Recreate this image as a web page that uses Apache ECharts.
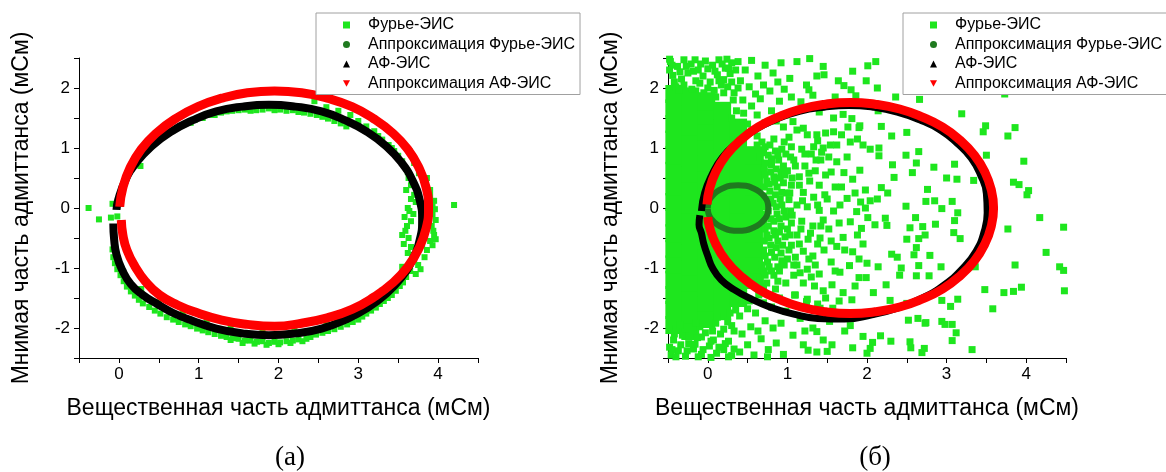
<!DOCTYPE html>
<html><head><meta charset="utf-8">
<script src="https://cdn.jsdelivr.net/npm/echarts@6/dist/echarts.min.js"></script>
<style>html,body{margin:0;padding:0;background:#fff}#c{width:1166px;height:472px}</style>
</head><body><div id="c"></div>
<script>
// ---- tick labels & names ----
const xTickLabels = ['0', '1', '2', '3', '4'];
const yTickLabels = ['-2', '-1', '0', '1', '2'];
const seriesNames = ['Фурье-ЭИС', 'Аппроксимация Фурье-ЭИС', 'АФ-ЭИС', 'Аппроксимация АФ-ЭИС'];
const xTitle = 'Вещественная часть адмиттанса (мСм)';
const yTitle = 'Мнимая часть адмиттанса (мСм)';
const panelLabels = ['(а)', '(б)'];

// ---- panel (а) data ----
const fourierA = [
[1.2,1.55],[1.35,1.61],[1.5,1.63],[1.65,1.62],[1.8,1.64],[1.95,1.63],[2.1,1.62],[2.25,1.60],[2.4,1.57],[2.55,1.52],[1.05,1.50],[0.9,1.42],[2.7,1.45],[2.85,1.36],
[0.75,1.35],[0.95,1.47],[1.15,1.55],[1.28,1.59],[1.42,1.62],[1.58,1.64],[1.72,1.63],[1.88,1.66],[2.02,1.64],[2.18,1.63],[2.32,1.59],[2.48,1.55],[2.62,1.49],[2.78,1.41],
[2.6,1.68],[2.9,1.55],[3.1,1.36],[3.3,1.14],[3.45,0.95],[3.55,0.78],[3.62,0.60],[3.2,1.28],[3.38,1.05],[2.45,1.78],[2.75,1.62],[3.0,1.45],[3.25,1.2],[3.5,0.87],[3.42,1.0],
[3.7,0.75],[3.76,0.58],[3.85,0.35],[3.64,0.95],[3.86,0.5],[3.9,0.3],
[3.60,0.30],[3.66,0.15],[3.62,0.0],[3.58,-0.15],[3.61,-0.30],[3.55,-0.45],[3.57,-0.60],[3.62,-0.75],[3.90,0.20],[3.93,0.06],[3.93,-0.10],[3.92,-0.30],[3.95,-0.45],[3.90,-0.55],[3.86,-0.70],[3.88,-0.20],[4.20,0.05],[3.68,0.45],[3.70,-0.85],[3.64,-0.05],[3.59,-0.38],
[3.63,0.5],[3.66,0.38],[3.70,0.22],[3.72,0.10],[3.69,-0.10],[3.66,-0.22],[3.63,-0.5],[3.66,-0.65],[3.68,-0.78],[3.95,0.12],[3.96,-0.02],[3.97,-0.20],[3.94,-0.38],[3.97,-0.52],[3.93,-0.62],[3.83,-0.82],[3.80,-0.62],
[3.75,-0.95],[3.60,-1.15],[3.52,-1.30],[3.42,-1.45],[3.32,-1.55],[3.22,-1.66],[3.10,-1.76],[3.00,-1.86],[2.86,-1.94],[2.70,-2.02],[2.55,-2.08],[3.65,-1.05],[3.38,-1.35],
[3.78,-1.02],[3.72,-1.1],[3.56,-1.24],[3.47,-1.38],[3.37,-1.5],[3.27,-1.6],[3.16,-1.71],[3.05,-1.81],[2.93,-1.9],[2.78,-1.98],[2.62,-2.05],[2.47,-2.11],
[2.40,-2.15],[2.25,-2.19],[2.10,-2.22],[1.95,-2.23],[1.80,-2.22],[1.65,-2.21],[1.50,-2.18],[1.35,-2.15],[1.20,-2.10],[1.05,-2.04],[2.00,-2.27],[1.70,-2.26],[1.40,-2.20],[2.30,-2.22],
[2.35,-2.18],[2.18,-2.21],[2.02,-2.24],[1.88,-2.25],[1.73,-2.23],[1.58,-2.21],[1.43,-2.17],[1.28,-2.13],[1.12,-2.07],[0.98,-2.01],[1.85,-2.28],[1.55,-2.25],[2.15,-2.25],
[0.90,-1.97],[0.75,-1.90],[0.60,-1.82],[0.45,-1.71],[0.30,-1.59],[0.20,-1.46],[0.10,-1.31],[0.02,-1.12],[-0.05,-0.92],
[0.83,-1.94],[0.68,-1.86],[0.52,-1.76],[0.38,-1.65],[0.25,-1.53],[0.15,-1.39],[0.06,-1.22],[-0.02,-1.02],[-0.07,-0.82],
[0.28,-1.35],[0.50,-1.57],[0.80,-1.76],[1.10,-1.90],[1.40,-1.99],[1.80,-2.03],[2.20,-2.01],[2.60,-1.89],[3.00,-1.67],[3.30,-1.38],[3.55,-0.98],
[-0.38,0.00],[-0.25,-0.19],[-0.08,0.07],[-0.10,-0.16],[-0.08,-0.69],[0.27,0.70],[-0.02,-0.14]
];
const approxFourierA = [
[0.01,0.02],[0.05,0.34],[0.14,0.67],[0.28,0.98],[0.47,1.25],[0.71,1.49],[0.99,1.69],[1.29,1.83],[1.61,1.92],[1.95,1.95],
[2.29,1.92],[2.61,1.83],[2.92,1.69],[3.19,1.49],[3.43,1.25],[3.62,0.98],[3.76,0.67],[3.85,0.34],[3.88,0.0],
[3.85,-0.34],[3.76,-0.67],[3.62,-0.98],[3.43,-1.25],[3.19,-1.49],[2.92,-1.69],[2.61,-1.83],[2.29,-1.92],[1.95,-1.97],
[1.61,-1.94],[1.29,-1.87],[0.99,-1.75],[0.74,-1.62],[0.51,-1.45],[0.33,-1.22],[0.2,-0.97],[0.1,-0.7],[0.05,-0.45],[0.03,-0.2]
];
const afA = [
[-0.03,-0.03],[-0.01,0.13],[0.08,0.46],[0.22,0.76],[0.41,1.03],[0.65,1.27],[0.92,1.46],[1.22,1.61],[1.55,1.69],[1.88,1.72],
[2.21,1.69],[2.54,1.61],[2.84,1.46],[3.11,1.27],[3.35,1.03],[3.54,0.76],[3.68,0.46],[3.77,0.13],[3.80,-0.2],
[3.77,-0.53],[3.68,-0.86],[3.54,-1.16],[3.35,-1.43],[3.11,-1.67],[2.84,-1.86],[2.54,-2.01],[2.21,-2.09],[1.88,-2.12],
[1.55,-2.09],[1.22,-2.01],[0.92,-1.88],[0.68,-1.75],[0.48,-1.6],[0.3,-1.45],[0.15,-1.27],[0.04,-1.03],[-0.03,-0.78],[-0.06,-0.52],[-0.07,-0.26]
];
const approxAfA = [
[0.01,0.02],[0.05,0.34],[0.14,0.67],[0.28,0.98],[0.47,1.25],[0.71,1.49],[0.99,1.69],[1.29,1.83],[1.61,1.92],[1.95,1.95],
[2.29,1.92],[2.61,1.83],[2.92,1.69],[3.19,1.49],[3.43,1.25],[3.62,0.98],[3.76,0.67],[3.85,0.34],[3.88,0.0],
[3.85,-0.34],[3.76,-0.67],[3.62,-0.98],[3.43,-1.25],[3.19,-1.49],[2.92,-1.69],[2.61,-1.83],[2.29,-1.92],[1.95,-1.97],
[1.61,-1.94],[1.29,-1.87],[0.99,-1.75],[0.74,-1.62],[0.51,-1.45],[0.33,-1.22],[0.2,-0.97],[0.1,-0.7],[0.05,-0.45],[0.03,-0.2]
];

// ---- panel (б) data ----
// dense, fully covered part of the cloud
const fourierBCore = [
[-0.42,-1.95],[-0.42,-1.70],[-0.42,-1.45],[-0.42,-1.20],[-0.42,-0.94],[-0.42,-0.68],[-0.42,-0.42],[-0.42,-0.16],[-0.42,0.10],[-0.42,0.36],[-0.42,0.62],[-0.42,0.88],[-0.42,1.14],[-0.42,1.40],[-0.42,1.66],[-0.42,1.90],
[-0.22,-2.05],[-0.22,-1.78],[-0.22,-1.50],[-0.22,-1.24],[-0.22,-0.98],[-0.22,-0.72],[-0.22,-0.46],[-0.22,-0.20],[-0.22,0.06],[-0.22,0.32],[-0.22,0.58],[-0.22,0.84],[-0.22,1.10],[-0.22,1.36],[-0.22,1.62],[-0.22,1.86],
[-0.02,-1.85],[-0.02,-1.58],[-0.02,-1.32],[-0.02,-1.06],[-0.02,-0.80],[-0.02,-0.54],[-0.02,-0.28],[-0.02,-0.02],[-0.02,0.24],[-0.02,0.50],[-0.02,0.76],[-0.02,1.02],[-0.02,1.28],[-0.02,1.54],[-0.02,1.78],
[0.18,-1.72],[0.18,-1.46],[0.18,-1.20],[0.18,-0.94],[0.18,-0.68],[0.18,-0.42],[0.18,-0.16],[0.18,0.10],[0.18,0.36],[0.18,0.62],[0.18,0.88],[0.18,1.14],[0.18,1.40],[0.18,1.62],
[0.38,-1.50],[0.38,-1.24],[0.38,-0.98],[0.38,-0.72],[0.38,-0.46],[0.38,-0.20],[0.38,0.06],[0.38,0.32],[0.38,0.58],[0.38,0.84],[0.38,1.10],[0.38,1.34],
[0.58,-1.20],[0.58,-0.94],[0.58,-0.68],[0.58,-0.42],[0.58,-0.16],[0.58,0.10],[0.58,0.36],[0.58,0.62],[0.58,0.88]
];
const fourierB = [
[-0.47,2.44],[-0.38,2.36],[-0.30,2.47],[-0.21,2.40],[-0.12,2.30],[-0.03,2.45],[0.06,2.38],[0.14,2.47],[0.22,2.33],[0.30,2.42],[-0.44,2.21],[-0.33,2.15],[-0.25,2.25],[-0.15,2.12],[-0.06,2.20],[0.03,2.10],[0.12,2.22],[0.20,2.14],[0.28,2.24],[-0.40,2.02],[-0.20,1.98],[0.08,1.96],[0.25,2.02],[0.33,1.92],[-0.48,2.30],[0.17,2.05],
[-0.45,2.38],[-0.35,2.27],[-0.27,2.36],[-0.18,2.28],[-0.09,2.40],[0.00,2.32],[0.09,2.28],[0.18,2.40],[0.26,2.33],[0.35,2.30],[-0.42,2.10],[-0.30,2.05],[-0.10,2.08],[0.00,2.00],[0.14,2.12],[0.30,2.10],[-0.36,1.96],[-0.05,1.92],[0.20,1.92],[0.38,2.00],[-0.48,2.48],[-0.16,2.47],[0.24,2.48],[0.10,1.85],[0.32,1.80],[0.36,1.62],[0.30,1.50],
[0.38,2.44],[0.47,2.30],[0.55,2.46],[0.63,2.20],[0.72,2.38],[0.82,2.25],[0.92,2.42],[0.41,2.12],[0.52,2.02],[0.60,1.90],[0.70,2.05],[0.78,1.95],[0.88,2.10],[0.96,1.98],[0.44,1.80],[0.55,1.70],[0.66,1.82],[0.80,1.62],[0.90,1.78],[0.98,1.55],[0.62,1.55],[0.45,1.58],[0.86,1.45],[0.72,1.42],[0.95,1.35],[0.50,1.40],
[-0.46,-2.45],[-0.37,-2.38],[-0.28,-2.47],[-0.18,-2.35],[-0.08,-2.44],[0.02,-2.30],[0.11,-2.42],[0.20,-2.36],[0.30,-2.46],[-0.43,-2.20],[-0.32,-2.12],[-0.24,-2.26],[-0.13,-2.16],[-0.03,-2.08],[0.07,-2.20],[0.16,-2.10],[0.26,-2.22],[0.33,-2.05],[-0.40,-2.02],[-0.10,-1.98],[0.10,-1.92],[0.25,-1.90],[-0.48,-2.32],[0.04,-2.49],
[-0.45,-2.36],[-0.34,-2.28],[-0.26,-2.38],[-0.16,-2.27],[-0.06,-2.36],[0.04,-2.22],[0.14,-2.32],[0.22,-2.26],[0.33,-2.35],[-0.42,-2.10],[-0.28,-2.02],[-0.08,-2.15],[0.06,-2.05],[0.20,-2.02],[0.30,-1.96],[-0.35,-1.95],[-0.15,-1.92],[0.12,-1.82],[0.28,-1.75],[0.34,-1.58],[-0.40,-2.48],[-0.12,-2.48],[0.26,-2.48],[0.45,-1.42],
[0.40,-2.40],[0.50,-2.28],[0.58,-2.45],[0.67,-2.18],[0.76,-2.36],[0.86,-2.25],[0.95,-2.44],[0.43,-2.10],[0.54,-1.98],[0.63,-2.05],[0.72,-1.88],[0.82,-2.00],[0.92,-1.92],[0.40,-1.80],[0.50,-1.68],[0.60,-1.75],[0.70,-1.58],[0.80,-1.65],[0.90,-1.50],[0.98,-1.72],[0.45,-1.55],[0.65,-1.42],[0.85,-1.35],[0.35,-1.70],[0.75,-2.48],
[0.72,-1.12],[0.80,-1.05],[0.88,-0.98],[0.75,-0.90],[0.84,-0.82],[0.92,-0.75],[0.70,-0.70],[0.79,-0.62],[0.88,-0.55],[0.97,-0.48],[0.74,-0.45],[0.83,-0.38],[0.92,-0.30],[0.70,-0.25],[0.79,-0.18],[0.87,-0.10],[0.96,-0.05],[0.73,0.02],[0.82,0.08],[0.91,0.15],[0.70,0.20],[0.78,0.28],[0.87,0.35],[0.95,0.42],[0.74,0.45],[0.83,0.52],[0.92,0.60],[0.71,0.65],[0.80,0.72],[0.89,0.80],[0.76,0.88],[0.85,0.95],[0.72,1.02],[0.93,-0.88],[0.98,-0.15],[0.99,0.25],[0.68,-0.95],[0.66,0.85],
[0.71,-1.05],[0.77,-0.98],[0.83,-1.12],[0.90,-1.05],[0.96,-0.95],[0.72,-0.80],[0.80,-0.74],[0.86,-0.66],[0.94,-0.62],[1.02,-0.70],[0.71,-0.55],[0.77,-0.50],[0.85,-0.45],[0.90,-0.40],[1.03,-0.45],[0.72,-0.35],[0.76,-0.30],[0.83,-0.22],[0.90,-0.18],[1.04,-0.05],[0.71,-0.10],[0.76,-0.05],[0.86,0.02],[0.93,0.05],[0.72,0.12],[0.79,0.15],[0.85,0.22],[0.93,0.26],[1.06,0.50],[0.71,0.35],[0.77,0.40],[0.84,0.43],[0.91,0.50],[0.97,0.55],[0.72,0.55],[0.79,0.60],[0.86,0.65],[0.95,0.70],[0.72,0.75],[0.80,0.82],[0.88,0.88],[0.93,0.98],[0.70,0.92],[0.78,1.05],[0.83,1.15],[1.04,0.85],[1.08,-0.95],[0.74,-1.25],[0.88,-1.22],
[0.62,1.2],[0.55,1.28],[0.68,1.1],[0.64,-1.45],[0.52,-1.55],[0.7,-1.3],[0.62,1.05],[0.66,-1.2],
[1.12,1.30],[1.02,1.18],[1.25,1.22],[1.38,1.12],[1.05,1.02],[1.18,0.98],[1.30,0.90],[1.42,0.80],[1.08,0.80],[1.22,0.70],[1.35,0.62],[1.00,0.62],[1.15,0.52],[1.28,0.45],[1.40,0.38],[1.05,0.38],[1.20,0.26],[1.33,0.18],[1.47,0.22],[1.02,0.14],[1.12,0.05],[1.25,0.02],[1.40,-0.04],[1.06,-0.12],[1.18,-0.22],[1.32,-0.30],[1.45,-0.20],[1.00,-0.35],[1.12,-0.45],[1.26,-0.52],[1.38,-0.60],[1.05,-0.62],[1.20,-0.72],[1.32,-0.80],[1.46,-0.70],[1.00,-0.85],[1.12,-0.95],[1.25,-1.02],[1.40,-1.10],[1.08,-1.12],[1.20,-1.25],[1.34,-1.30],[1.45,-1.38],[0.98,-1.25],[1.10,-1.45],[1.25,-1.52],[1.38,-1.60],[1.48,-1.50],[0.96,1.10],[1.45,1.00],[1.48,0.55],[0.98,0.90],
[1.03,0.25],[1.15,0.38],[1.27,0.58],[1.36,0.80],[1.10,0.70],[1.22,0.90],[1.33,1.02],[1.05,-0.25],[1.17,-0.35],[1.29,-0.42],[1.41,-0.50],[1.15,-0.60],[1.27,-0.85],[1.35,-0.95],[1.10,-0.82],[1.42,-0.30],[1.38,0.05],[1.19,0.12],[1.30,-1.15],[1.16,-1.08],
[1.03,2.16],[1.12,2.44],[1.24,2.05],[1.28,2.49],[1.32,1.88],[1.17,1.77],[1.37,2.20],[1.45,2.36],[1.46,2.22],[1.27,1.97],[1.07,1.44],[1.20,1.33],[1.37,1.22],[1.05,1.85],[1.40,1.60],[1.16,-1.84],[1.07,-2.12],[1.20,-2.28],[1.32,-2.00],[1.37,-2.40],[1.24,-1.56],[1.41,-1.67],[1.09,-1.45],[1.22,-2.05],[1.26,-2.37],[1.50,-2.39],[1.37,-2.06],[1.53,-1.89],[1.45,-2.20],
[1.64,2.12],[1.71,2.04],[1.80,1.97],[1.86,1.87],[1.82,2.28],[1.70,1.56],[1.81,1.49],[1.91,1.37],[1.58,1.27],[1.68,1.22],[1.79,1.10],[1.54,1.05],[1.43,0.93],[1.62,0.77],[1.71,0.59],[1.82,0.48],[1.91,0.63],[1.75,0.16],[1.66,0.05],[1.87,-0.06],[1.79,-0.23],[1.93,-0.34],[1.70,-0.49],[1.62,-0.64],[1.82,-0.73],[1.90,-0.85],[2.00,-0.92],[1.78,-0.96],[1.66,-1.07],[1.90,-1.16],[1.56,-1.28],[1.70,-1.41],[1.81,-1.53],[1.57,-1.67],[1.56,-2.28],[1.82,-2.33],[1.79,-1.96],[1.60,0.35],[1.52,-0.35],[1.55,0.60],[1.98,0.30],[1.65,-0.25],[1.58,1.50],[1.95,1.05],[1.88,-0.45],[1.55,-0.90],
[1.52,0.85],[1.62,1.05],[1.75,0.85],[1.85,0.25],[1.58,-0.05],[1.72,-0.7],[1.6,-1.05],[1.85,-1.3],[1.95,-0.6],[1.5,0.15],[1.68,0.35],[1.76,1.35],[1.92,0.1],[1.55,-0.55],[1.65,-1.55],[1.88,1.15],[1.48,1.25],[1.6,1.85],[1.72,-2.05],[1.95,-1.75],
[2.11,2.44],[2.01,2.37],[1.99,2.12],[2.13,2.00],[2.36,1.85],[2.66,1.81],[2.14,1.62],[1.90,1.34],[2.18,1.36],[2.31,1.20],[2.50,1.26],[2.49,0.88],[2.65,0.94],[2.62,0.75],[2.32,0.72],[2.15,0.87],[2.04,0.98],[2.15,1.00],[2.57,0.59],[2.34,0.51],[2.18,0.34],[2.26,0.25],[2.04,0.12],[2.13,0.15],[1.98,0.00],[2.49,0.03],[2.01,-0.16],[2.23,-0.17],[2.25,-0.29],[2.10,-0.28],[2.61,-0.16],[2.54,-0.33],[2.65,-0.51],[2.50,-0.52],[2.62,-0.66],[2.59,-0.78],[2.31,-0.77],[2.38,-0.82],[2.43,-1.00],[2.41,-1.12],[2.65,-0.96],[2.62,-1.13],[2.14,-0.98],[2.24,-1.28],[1.99,-1.16],[2.08,-1.41],[2.29,-1.54],[2.50,-1.59],[2.64,-1.84],[2.52,-1.87],[2.73,-1.92],[2.17,-2.13],[1.95,-2.14],[2.07,-2.24],[2.04,-2.34],[2.00,-2.42],[2.30,-2.22],[2.54,-2.23],[2.55,-2.33],[2.72,-2.34],
[3.19,1.57],[3.49,1.37],[3.46,1.27],[3.86,1.34],[3.77,1.20],[3.50,0.88],[3.97,0.78],[3.10,0.73],[2.84,0.68],[3.00,0.50],[3.13,0.48],[3.34,0.46],[3.84,0.43],[3.91,0.39],[4.03,0.29],[4.01,0.22],[2.76,0.31],[2.74,0.11],[2.85,0.12],[3.07,0.11],[2.94,-0.01],[3.14,-0.08],[3.10,-0.21],[2.86,-0.27],[2.70,-0.31],[3.09,-0.41],[3.17,-0.51],[2.73,-0.45],[4.17,-0.16],[3.77,-0.35],[4.47,-0.32],[4.25,-0.74],[2.79,-0.79],[2.93,-0.98],[3.36,-0.98],[3.86,-0.95],[4.42,-0.98],[4.47,-1.04],[2.78,-1.13],[3.48,-1.36],[3.72,-1.41],[3.84,-1.39],[3.94,-1.32],[4.48,-1.38],[3.14,-1.52],[2.94,-1.54],[3.05,-1.64],[3.58,-1.68],[2.74,-1.91],[2.94,-1.89],[2.98,-1.94],[3.07,-1.94],[3.12,-2.08],[3.07,-2.21],[3.32,-2.36],[2.69,-2.41],[3.73,1.90],[2.95,2.40],[2.60,2.30]
];
const approxFourierB = [
[0.0,0.0],[0.01,0.10],[0.05,0.19],[0.11,0.27],[0.19,0.33],[0.28,0.37],[0.38,0.38],[0.48,0.37],[0.57,0.33],[0.65,0.27],[0.71,0.19],[0.75,0.10],[0.76,0.0],
[0.75,-0.10],[0.71,-0.19],[0.65,-0.27],[0.57,-0.33],[0.48,-0.37],[0.38,-0.38],[0.28,-0.37],[0.19,-0.33],[0.11,-0.27],[0.05,-0.19],[0.01,-0.10],[0.0,-0.01]
];
const afB = [
[-0.08,-0.05],[-0.04,0.25],[0.05,0.55],[0.18,0.84],[0.37,1.09],[0.6,1.31],[0.86,1.48],[1.15,1.61],[1.46,1.68],[1.77,1.71],[2.08,1.68],[2.38,1.6],[2.66,1.47],[2.92,1.3],[3.13,1.08],[3.31,0.83],[3.43,0.54],[3.5,0.24],[3.51,-0.08],
[3.47,-0.4],[3.37,-0.72],[3.2,-1.01],[2.98,-1.27],[2.71,-1.49],[2.4,-1.66],[2.06,-1.78],[1.72,-1.85],[1.38,-1.84],[1.08,-1.77],[0.8,-1.66],[0.55,-1.52],[0.33,-1.36],[0.17,-1.2],[0.06,-1.0],[0.0,-0.8],[-0.05,-0.6],[-0.08,-0.42],[-0.11,-0.28],[-0.1,-0.12]
];
const approxAfB = [
[-0.01,0.06],[0.02,0.31],[0.10,0.60],[0.23,0.88],[0.41,1.13],[0.63,1.35],[0.89,1.52],[1.17,1.65],[1.48,1.73],[1.79,1.76],[2.10,1.73],[2.41,1.65],[2.69,1.52],[2.95,1.35],[3.17,1.13],[3.35,0.88],[3.48,0.60],[3.56,0.31],[3.59,0.0],
[3.56,-0.31],[3.48,-0.60],[3.35,-0.88],[3.17,-1.13],[2.95,-1.35],[2.69,-1.52],[2.41,-1.65],[2.10,-1.73],[1.79,-1.76],[1.48,-1.73],[1.17,-1.65],[0.89,-1.52],[0.63,-1.35],[0.41,-1.13],[0.23,-0.88],[0.10,-0.60],[0.02,-0.31],[0.0,-0.15]
];

// ---- styling ----
const GREEN = '#1ee61e', DKGREEN = '#1f7a1f', BLACK = '#000000', RED = '#ff0000';
const FONT = 'Liberation Sans';
const grids = [
  {left: 79, top: 58, width: 399, height: 300},
  {left: 668, top: 58, width: 398, height: 300}
];
function xLab(v) { const s = String(Math.round(v * 100) / 100); return xTickLabels.includes(s) ? s : ''; }
function yLab(v) { const s = String(Math.round(v * 100) / 100); return yTickLabels.includes(s) ? s : ''; }
function xAxis(i) {
  return {gridIndex: i, type: 'value', min: -0.5, max: 4.5, interval: 0.5,
    axisLine: {show: true, onZero: false, lineStyle: {color: '#000', width: 1}},
    axisTick: {show: true, inside: false, length: 5, lineStyle: {color: '#000'}},
    axisLabel: {formatter: xLab, margin: 8, fontSize: 17, fontFamily: FONT, color: '#000'},
    splitLine: {show: false},
    name: xTitle, nameLocation: 'middle', nameGap: 39,
    nameTextStyle: {fontSize: 23, fontFamily: FONT, color: '#000'}};
}
function yAxis(i) {
  return {gridIndex: i, type: 'value', min: -2.5, max: 2.5, interval: 0.5,
    axisLine: {show: true, onZero: false, lineStyle: {color: '#000', width: 1}},
    axisTick: {show: true, inside: false, length: 5, lineStyle: {color: '#000'}},
    axisLabel: {formatter: yLab, margin: 9, fontSize: 17, fontFamily: FONT, color: '#000'},
    splitLine: {show: false},
    name: yTitle, nameLocation: 'middle', nameGap: 46,
    nameTextStyle: {fontSize: 23, fontFamily: FONT, color: '#000'}};
}
function legend(left) {
  return {orient: 'vertical', left: left, top: 13, padding: [4, 5, 3, 27],
    itemWidth: 7, itemHeight: 7, itemGap: 3.5,
    backgroundColor: '#fff', borderColor: '#a0a0a0', borderWidth: 1, borderRadius: 0,
    itemStyle: {borderWidth: 0},
    textStyle: {fontSize: 16, fontFamily: FONT, color: '#000', lineHeight: 16, padding: [0, 0, 0, 13]},
    data: [
      {name: seriesNames[0], icon: 'rect'},
      {name: seriesNames[1], icon: 'circle'},
      {name: seriesNames[2], icon: 'triangle'},
      {name: seriesNames[3], icon: 'path://M0,0L10,0L5,9Z'}
    ]};
}
function scatter(name, i, data, size) {
  return {type: 'scatter', name: name, xAxisIndex: i, yAxisIndex: i, data: data,
    symbol: 'rect', symbolSize: size, itemStyle: {color: GREEN, opacity: 1}, silent: true};
}
function curve(name, i, data, color, width) {
  return {type: 'line', name: name, xAxisIndex: i, yAxisIndex: i, data: data,
    smooth: true, showSymbol: false, symbol: 'none', color: color,
    itemStyle: {color: color}, lineStyle: {color: color, width: width, join: 'round'}, silent: true};
}

const chart = echarts.init(document.getElementById('c'), null, {renderer: 'canvas'});
chart.setOption({
  animation: false,
  backgroundColor: '#fff',
  title: [
    {text: panelLabels[0], left: 285, top: 439, textAlign: 'center',
     textStyle: {fontFamily: 'Liberation Serif', fontSize: 27, fontWeight: 'normal', color: '#000'}},
    {text: panelLabels[1], left: 870, top: 439, textAlign: 'center',
     textStyle: {fontFamily: 'Liberation Serif', fontSize: 27, fontWeight: 'normal', color: '#000'}}
  ],
  grid: grids,
  xAxis: [xAxis(0), xAxis(1)],
  yAxis: [yAxis(0), yAxis(1)],
  legend: [legend(316), legend(903)],
  series: [
    scatter(seriesNames[0], 0, fourierA, 6),
    curve(seriesNames[1], 0, approxFourierA, DKGREEN, 7),
    curve(seriesNames[2], 0, afA, BLACK, 8),
    curve(seriesNames[3], 0, approxAfA, RED, 9),
    scatter(seriesNames[0], 1, fourierBCore, 18),
    scatter(seriesNames[0], 1, fourierB, 7),
    curve(seriesNames[1], 1, approxFourierB, DKGREEN, 6),
    curve(seriesNames[2], 1, afB, BLACK, 7),
    curve(seriesNames[3], 1, approxAfB, RED, 9)
  ]
});
</script></body></html>
